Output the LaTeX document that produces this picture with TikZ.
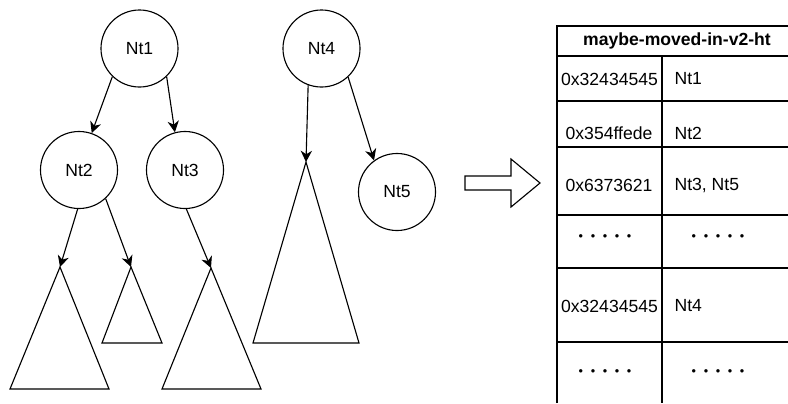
\documentclass[tikz,border=0pt]{standalone}
\usepackage{fontspec}
\setmainfont{Liberation Sans}
\usetikzlibrary{arrows.meta}

\newcommand{\fivedots}{{\fontsize{9}{10}\selectfont •\hspace{5.4pt}•\hspace{5.4pt}•\hspace{5.4pt}•\hspace{5.4pt}•}}

\begin{document}
\begin{tikzpicture}[x=0.025cm, y=-0.025cm, line width=0.8pt,
		tnode/.style={circle, draw=black, minimum size=1.925cm, inner sep=0pt, font=\fontsize{12.5}{15}\selectfont},
		link/.style={-{Stealth[length=8pt, width=8pt, inset=2.5pt]}},
		cell/.style={inner sep=0pt, font=\fontsize{12.5}{15}\selectfont},
		keycell/.style={cell, anchor=center},
		valcell/.style={cell, anchor=west}]
		\useasboundingbox (0,0) rectangle (788,403);

		% trees
		\node (Nt1) [tnode] at (139.5,48.5) {Nt1};
		\node (Nt2) [tnode] at (79,170) {Nt2};
		\node (Nt3) [tnode] at (185,170) {Nt3};
		\node (Nt4) [tnode] at (321.5,48.5) {Nt4};
		\node (Nt5) [tnode] at (397,192) {Nt5};

		\coordinate (t1) at (60,267);
		\coordinate (t2) at (131,267);
		\coordinate (t3) at (211,268);
		\coordinate (t4) at (306,162);
		\draw (t1) -- (10,389) -- (109,389) -- cycle;
		\draw (t2) -- (102,343) -- (162,343) -- cycle;
		\draw (t3) -- (162,389) -- (261,389) -- cycle;
		\draw (t4) -- (253,343) -- (359,343) -- cycle;

		\draw[link] (Nt1.226) -- (Nt2.71);
		\draw[link] (Nt1.314) -- (Nt3.105);
		\draw[link] (Nt2.268) -- (t1);
		\draw[link] (Nt2.313) -- (t2);
		\draw[link] (Nt3.272) -- (t3);
		\draw[link] (Nt4.250) -- (t4);
		\draw[link] (Nt4.313) -- (Nt5.126);

		% block arrow
		\draw (465,176) -- (511,176) -- (511,159) -- (540,183) -- (511,207) -- (511,190) -- (465,190) -- cycle;

		% table
		\draw (557,403) -- (557,26) -- (788,26);
		\draw (557,56) -- (788,56);
		\draw (662,56) -- (662,403);
		\foreach \y in {101,147,215,268,342}
			\draw (557,\y) -- (788,\y);

		\node (head) [cell, font=\fontsize{12.5}{15}\selectfont\bfseries] at (677,41) {maybe-moved-in-v2-ht};
		\node (k1) [keycell] at (609.5,79) {0x32434545};
		\node (v1) [valcell] at (674,79) {Nt1};
		\node (k2) [keycell] at (609,133) {0x354ffede};
		\node (v2) [valcell] at (674,133) {Nt2};
		\node (k3) [keycell] at (609,185) {0x6373621};
		\node (v3) [valcell] at (674,185) {Nt3, Nt5};
		\node (k4) [cell] at (605,238) {\fivedots};
		\node (v4) [cell] at (718,238) {\fivedots};
		\node (k5) [keycell] at (609.5,306) {0x32434545};
		\node (v5) [valcell] at (674,306) {Nt4};
		\node (k6) [cell] at (605,373) {\fivedots};
		\node (v6) [cell] at (718,373) {\fivedots};
	\end{tikzpicture}
\end{document}
